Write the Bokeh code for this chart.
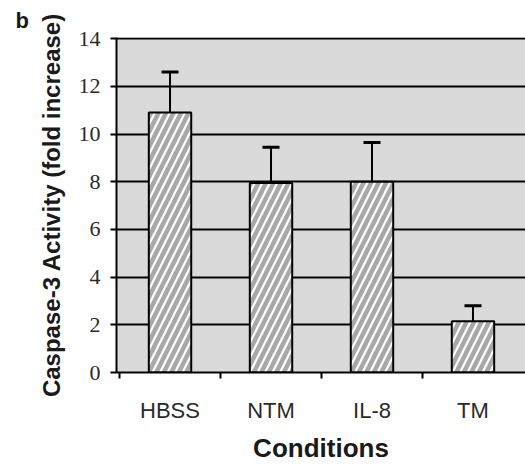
import numpy as np
from bokeh.plotting import figure
from bokeh.models import FixedTicker, Whisker, ColumnDataSource, TeeHead, Range1d
from bokeh.embed import file_html
from bokeh.resources import INLINE

categories = ["HBSS", "NTM", "IL-8", "TM"]
values = [10.9, 7.95, 8.0, 2.15]
errors = [1.7, 1.5, 1.65, 0.65]
y_ticks = [0, 2, 4, 6, 8, 10, 12, 14]

x = np.arange(len(categories)) + 0.5
src = ColumnDataSource(dict(x=x, top=values, upper=np.array(values) + np.array(errors)))

p = figure(width=525, height=465, output_backend="svg", toolbar_location=None,
           x_range=Range1d(-0.03, 4.02), y_range=Range1d(0, 14.05),
           min_border_left=116, min_border_right=0, min_border_top=37, min_border_bottom=92)
p.background_fill_color = "#dadada"
p.border_fill_color = "white"
p.outline_line_color = None

p.title.text = "b"
p.title.text_font = "Liberation Sans"
p.title.text_font_style = "bold"
p.title.text_font_size = "22px"
p.title.text_color = "#1a1a1a"
p.title.offset = -101
p.title.standoff = 10

p.xgrid.visible = False
p.ygrid.ticker = FixedTicker(ticks=y_ticks)
p.ygrid.grid_line_color = "black"
p.ygrid.grid_line_width = 2

p.vbar(x="x", top="top", width=0.42, source=src, fill_color="white",
       line_color="black", line_width=2, hatch_pattern="/", hatch_color="#a8a8a8",
       hatch_weight=4.5, hatch_scale=15)

wh = Whisker(base="x", lower="top", upper="upper", source=src, line_color="black", line_width=2,
             upper_head=TeeHead(size=17, line_color="black", line_width=3), lower_head=None)
p.add_layout(wh)

# y axis
p.yaxis.ticker = FixedTicker(ticks=y_ticks)
p.yaxis.axis_line_width = 2
p.yaxis.axis_line_color = "black"
p.yaxis.major_tick_line_width = 2
p.yaxis.major_tick_out = 6
p.yaxis.major_tick_in = 0
p.yaxis.minor_tick_line_color = None
p.yaxis.major_label_text_font = "Liberation Serif"
p.yaxis.major_label_text_font_size = "22px"
p.yaxis.major_label_text_color = "#2a2a2a"
p.yaxis.major_label_standoff = 10
p.yaxis.axis_label = "Caspase-3 Activity (fold increase)"
p.yaxis.axis_label_text_font = "Liberation Sans"
p.yaxis.axis_label_text_font_style = "bold"
p.yaxis.axis_label_text_font_size = "24px"
p.yaxis.axis_label_text_color = "#1a1a1a"
p.yaxis.axis_label_standoff = 11

# x axis
p.xaxis.ticker = FixedTicker(ticks=list(x), minor_ticks=[0, 1, 2, 3])
p.xaxis.major_label_overrides = {float(v): c for v, c in zip(x, categories)}
p.xaxis.axis_line_width = 2
p.xaxis.axis_line_color = "black"
p.xaxis.major_tick_line_color = None
p.xaxis.major_tick_out = 0
p.xaxis.major_tick_in = 0
p.xaxis.minor_tick_line_width = 2
p.xaxis.minor_tick_line_color = "black"
p.xaxis.minor_tick_out = 6
p.xaxis.minor_tick_in = 0
p.xaxis.major_label_text_font = "Liberation Sans"
p.xaxis.major_label_text_font_size = "22px"
p.xaxis.major_label_text_color = "#2a2a2a"
p.xaxis.major_label_standoff = 19
p.xaxis.axis_label = "Conditions"
p.xaxis.axis_label_text_font = "Liberation Sans"
p.xaxis.axis_label_text_font_style = "bold"
p.xaxis.axis_label_text_font_size = "26px"
p.xaxis.axis_label_text_color = "#1a1a1a"
p.xaxis.axis_label_standoff = 7

open("out.html", "w").write(file_html(p, INLINE))
